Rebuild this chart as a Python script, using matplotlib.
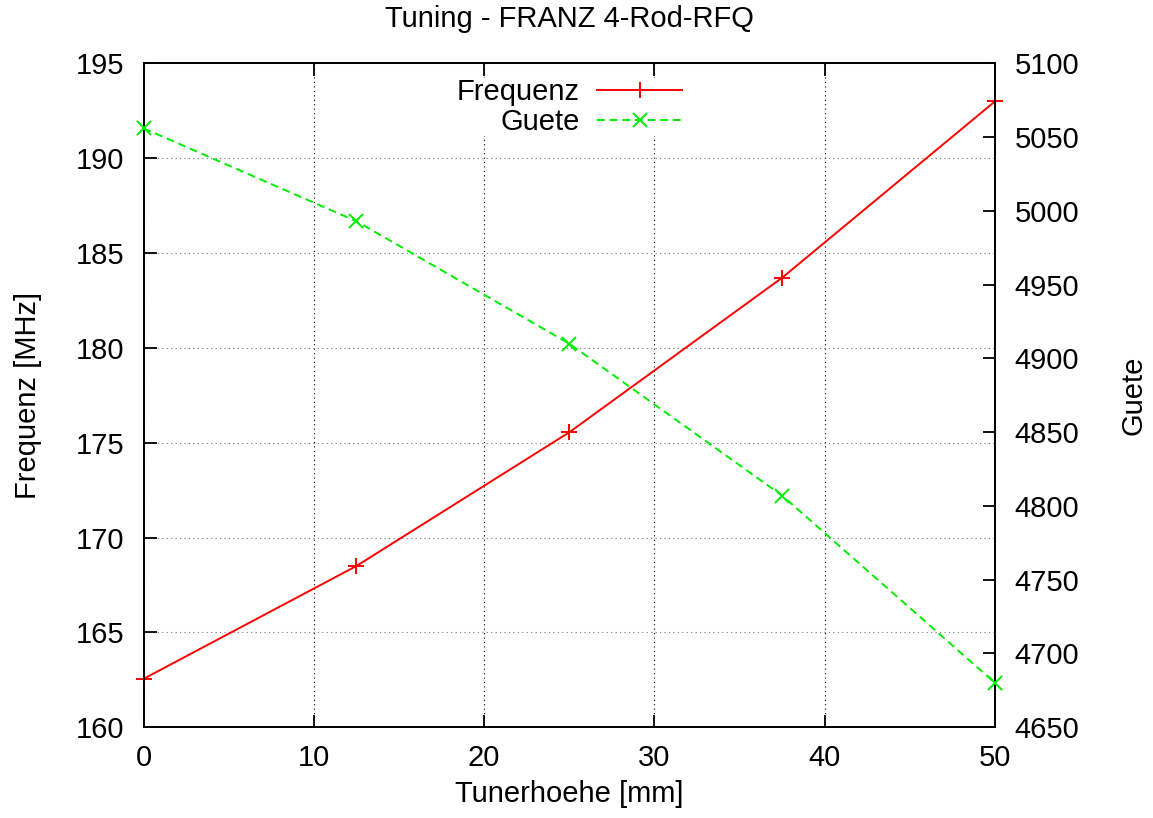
import matplotlib
matplotlib.use('Agg')
import matplotlib.pyplot as plt

plt.rcParams['font.family'] = ['Liberation Sans', 'DejaVu Sans']
plt.rcParams['font.size'] = 21

# data
tuner = [0, 12.5, 25, 37.5, 50]
frequenz = [162.55, 168.5, 175.55, 183.7, 193.0]
guete = [5056, 4993, 4910, 4807, 4680]

fig = plt.figure(figsize=(11.53, 8.18), dpi=100)
ax = fig.add_axes([0.1245, 0.111, 0.7385, 0.8115])
ax2 = ax.twinx()

l1, = ax.plot(tuner, frequenz, color='#ff0000', lw=1.4, marker='+',
              ms=11, mew=1.4, label='Frequenz', clip_on=False, zorder=5)
l2, = ax2.plot(tuner, guete, color='#00ee00', lw=1.4, ls=(0, (4, 2.5)),
               marker='x', ms=10, mew=1.4, label='Guete', clip_on=False, zorder=5)

ax.set_xlim(0, 50)
ax.set_ylim(160, 195)
ax2.set_ylim(4650, 5100)
ax.set_xticks(range(0, 51, 10))
ax.set_yticks(range(160, 196, 5))
ax2.set_yticks(range(4650, 5101, 50))

ax.grid(True, axis='x', color='black', ls=(0, (1, 3)), lw=0.8)
ax.grid(True, axis='y', color='#777777', ls=(0, (1, 3)), lw=0.8)

ax.tick_params(axis='x', direction='in', top=True, length=9, width=1.3, pad=12)
ax.tick_params(axis='y', direction='in', right=False, length=9, width=1.3, pad=14)
ax2.tick_params(axis='y', direction='in', length=9, width=1.3, pad=14)
for a in (ax, ax2):
    for s in a.spines.values():
        s.set_linewidth(1.3)

ax.set_xlabel('Tunerhoehe [mm]', labelpad=6)
ax.set_ylabel('Frequenz [MHz]', labelpad=24)
ax2.set_ylabel('Guete', labelpad=29)
ax.set_title('Tuning - FRANZ 4-Rod-RFQ', fontsize=21, pad=26)

leg = ax2.legend(handles=[l1, l2], loc='upper center', bbox_to_anchor=(0.50, 1.0),
                 markerfirst=False, handlelength=2.9, handletextpad=0.6,
                 labelspacing=0.07, frameon=True, fancybox=False,
                 borderpad=0.0)
leg.get_frame().set_edgecolor('none')
leg.get_frame().set_facecolor('white')
leg.get_frame().set_alpha(1)
for t in leg.get_texts():
    t.set_ha('right')
leg.set_zorder(10)

fig.savefig('out.png', dpi=100)
